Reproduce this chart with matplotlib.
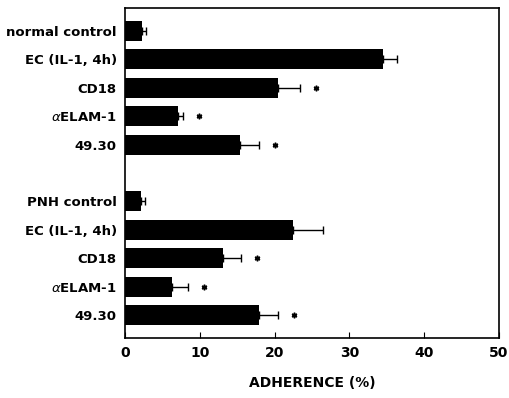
import matplotlib
matplotlib.use("Agg")
import matplotlib.pyplot as plt
import numpy as np

categories = ["normal control", "EC (IL-1, 4h)", "CD18", r"$\alpha$ELAM-1", "49.30",
              "PNH control", "EC (IL-1, 4h)", "CD18", r"$\alpha$ELAM-1", "49.30"]
values = [2.3, 34.5, 20.4, 7.1, 15.4, 2.2, 22.5, 13.1, 6.3, 17.9]
errors = [0.5, 1.9, 3.0, 0.6, 2.5, 0.5, 4.0, 2.4, 2.1, 2.5]
significant = [False, False, True, True, True, False, False, True, True, True]
positions = [0, 1, 2, 3, 4, 6, 7, 8, 9, 10]

plt.rcParams['font.family'] = ['DejaVu Sans']
fig = plt.figure(figsize=(5.1, 3.98), dpi=100)
ax = fig.add_axes([125/510, 1-338/398, (499-125)/510, (338-8)/398])

ax.barh(positions, values, height=0.7, color='black',
        xerr=[np.zeros(len(errors)), errors],
        error_kw=dict(ecolor='black', elinewidth=1.0, capsize=3, capthick=1.0))
for p, v, e, s in zip(positions, values, errors, significant):
    if s:
        ax.plot(v + e + 2.2, p, marker=(6, 2, 0), markersize=4, color='black', mew=1.1)

ax.set_xlim(0, 50)
ax.set_ylim(10.8, -0.8)
ax.set_xticks([0, 10, 20, 30, 40, 50])
ax.set_xticklabels(["0", "10", "20", "30", "40", "50"], fontsize=10, fontweight='bold')
ax.set_yticks(positions)
ax.set_yticklabels(categories, fontsize=9.5, fontweight='bold')
ax.tick_params(axis='y', length=0, pad=6)
ax.tick_params(axis='x', direction='in', length=4, pad=6)
for sp in ax.spines.values():
    sp.set_linewidth(1.2)
ax.set_xlabel("ADHERENCE (%)", fontsize=10, fontweight='bold', labelpad=11)

fig.savefig("out.png", dpi=100)
